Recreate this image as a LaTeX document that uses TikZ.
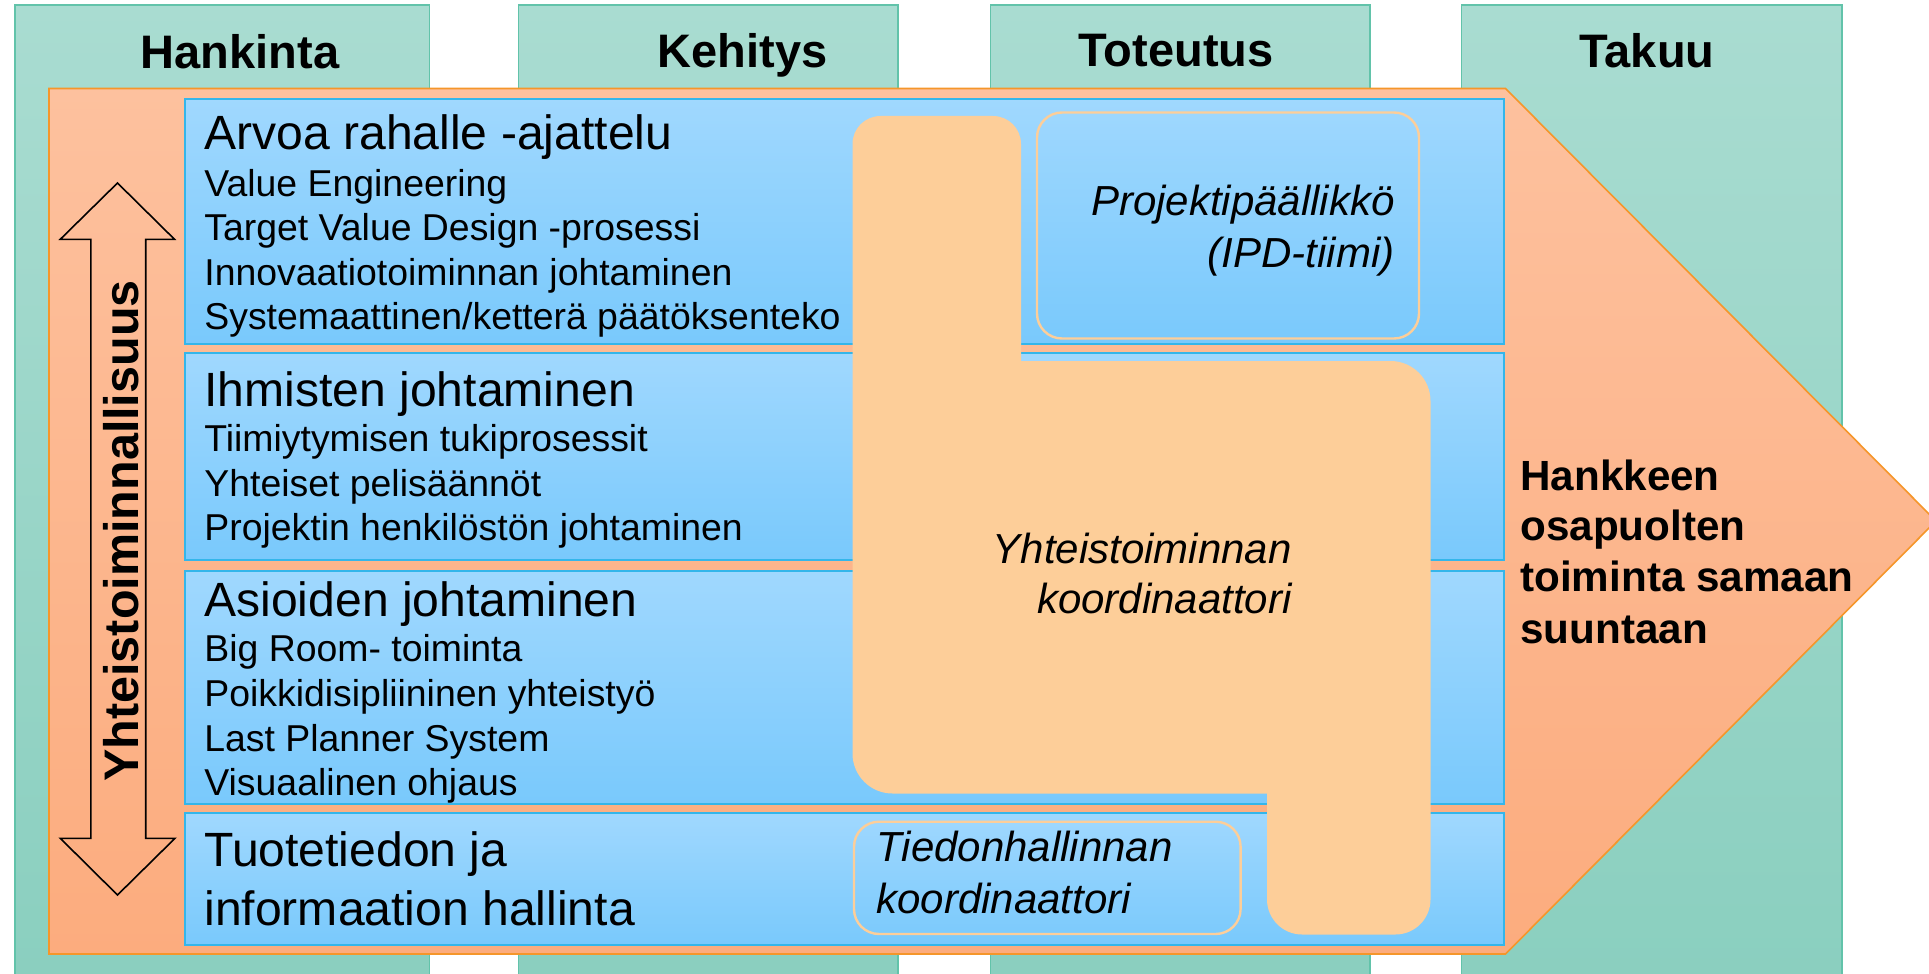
\documentclass[tikz,border=0pt]{standalone}
\usepackage{fontspec}
\setmainfont{Liberation Sans}
\definecolor{greentop}{HTML}{A9DCD1}
\definecolor{greenbot}{HTML}{8ACFBF}
\definecolor{greenline}{HTML}{62C3AA}
\definecolor{orangetop}{HTML}{FDC19E}
\definecolor{orangebot}{HTML}{FCAC7E}
\definecolor{orangeline}{HTML}{F5962A}
\definecolor{bluetop}{HTML}{A0D8FE}
\definecolor{bluebot}{HTML}{79C9FC}
\definecolor{blueline}{HTML}{34B6EA}
\definecolor{peach}{HTML}{FDCE99}
\begin{document}
\begin{tikzpicture}[x=0.5pt,y=0.5pt,yscale=-1,xscale=1,
  phase/.style={draw=greenline,line width=0.6pt,top color=greentop,bottom color=greenbot},
  rowbox/.style={draw=blueline,line width=1pt,top color=bluetop,bottom color=bluebot},
  rolebox/.style={draw=peach,line width=1.2pt,rounded corners=12.5pt},
  phasetxt/.style={font=\bfseries\fontsize{23.5}{28}\selectfont,anchor=base,inner sep=0pt},
  titletxt/.style={font=\fontsize{24.05}{28}\selectfont,anchor=base west,inner sep=0pt},
  itemtxt/.style={font=\fontsize{18.7}{22}\selectfont,anchor=base west,inner sep=0pt},
  roletxt/.style={font=\itshape\fontsize{21}{25}\selectfont,inner sep=0pt},
  goaltxt/.style={font=\bfseries\fontsize{21.1}{25}\selectfont,anchor=base west,inner sep=0pt}]
\useasboundingbox (0,0) rectangle (1929,974);

%Shape: Phase columns
\draw[phase] (15,5) rectangle (429.5,985);
\draw[phase] (518.5,5) rectangle (898,985);
\draw[phase] (990.5,5) rectangle (1370,985);
\draw[phase] (1461.5,5) rectangle (1842,985);

%Shape: Big arrow
\draw[draw=orangeline,line width=0.8pt,top color=orangetop,bottom color=orangebot]
  (49,88.5) -- (1505.5,88.5) -- (1936,521) -- (1505.5,954) -- (49,954) -- cycle;

%Shape: Rows
\draw[rowbox] (185,98.7) rectangle (1503.5,344);
\draw[rowbox] (185,352.5) rectangle (1503.5,559.5);
\draw[rowbox] (185,570.5) rectangle (1503.5,804);
\draw[rowbox] (185,813.3) rectangle (1503.5,945.3);

%Shape: Coordinator area
\fill[peach] (852.5,144) .. controls (852.5,128.5) and (865,116) .. (880.5,116)
  -- (993,116) .. controls (1008.5,116) and (1021,128.5) .. (1021,144)
  -- (1021,361) -- (1390.5,361) .. controls (1412.6,361) and (1430.5,378.9) .. (1430.5,401)
  -- (1430.5,899.5) .. controls (1430.5,918.8) and (1414.8,934.5) .. (1395.5,934.5)
  -- (1302,934.5) .. controls (1282.7,934.5) and (1267,918.8) .. (1267,899.5)
  -- (1267,793.5) -- (892.5,793.5) .. controls (870.4,793.5) and (852.5,775.6) .. (852.5,753.5)
  -- cycle;

%Shape: Role boxes
\draw[rolebox] (1037,112.5) rectangle (1419,338.5);
\draw[rolebox] (854,821.7) rectangle (1240.6,934);

%Shape: Double arrow
\draw[line width=0.8pt] (117.5,183) -- (174.5,239.3) -- (145.7,239.3) -- (145.7,838.3)
  -- (175,838.3) -- (117.5,895) -- (60.3,838.3) -- (90.8,838.3) -- (90.8,239.3)
  -- (60.3,239.3) -- cycle;

% Text Node
\node[phasetxt] (hankinta) at (240,69) {Hankinta};
% Text Node
\node[phasetxt] (kehitys) at (742.5,68) {Kehitys};
% Text Node
\node[phasetxt] (toteutus) at (1176,67) {Toteutus};
% Text Node
\node[phasetxt] (takuu) at (1647,67.5) {Takuu};

% Text Node
\node[titletxt] (arvoa) at (204,149) {Arvoa rahalle -ajattelu};
\node[itemtxt] (arvoa1) at (204,196.5) {Value Engineering};
\node[itemtxt] (arvoa2) at (204,241) {Target Value Design -prosessi};
\node[itemtxt] (arvoa3) at (204,285.5) {Innovaatiotoiminnan johtaminen};
\node[itemtxt] (arvoa4) at (204,329.5) {Systemaattinen/ketterä päätöksenteko};

% Text Node
\node[titletxt] (ihmiset) at (204,406.7) {Ihmisten johtaminen};
\node[itemtxt] (ihmiset1) at (204,451.7) {Tiimiytymisen tukiprosessit};
\node[itemtxt] (ihmiset2) at (204,496.5) {Yhteiset pelisäännöt};
\node[itemtxt] (ihmiset3) at (204,540.5) {Projektin henkilöstön johtaminen};

% Text Node
\node[titletxt] (asiat) at (204,616.7) {Asioiden johtaminen};
\node[itemtxt] (asiat1) at (204,661.7) {Big Room- toiminta};
\node[itemtxt] (asiat2) at (204,706.5) {Poikkidisipliininen yhteistyö};
\node[itemtxt] (asiat3) at (204,751.5) {Last Planner System};
\node[itemtxt] (asiat4) at (204,795.5) {Visuaalinen ohjaus};

% Text Node
\node[titletxt] (tuote1) at (204,866.7) {Tuotetiedon ja};
\node[titletxt] (tuote2) at (204,925) {informaation hallinta};

% Text Node
\node[roletxt,anchor=base east] (pm1) at (1395,215) {Projektipäällikkö};
\node[roletxt,anchor=base east] (pm2) at (1395,267) {(IPD-tiimi)};
% Text Node
\node[roletxt,anchor=base east] (yk1) at (1292,563.3) {Yhteistoiminnan};
\node[roletxt,anchor=base east] (yk2) at (1292,613.3) {koordinaattori};
% Text Node
\node[roletxt,anchor=base west] (tk1) at (876,861.7) {Tiedonhallinnan};
\node[roletxt,anchor=base west] (tk2) at (876,913.3) {koordinaattori};

% Text Node
\node[goaltxt] (goal1) at (1520,490) {Hankkeen};
\node[goaltxt] (goal2) at (1520,540.5) {osapuolten};
\node[goaltxt] (goal3) at (1520,591.7) {toiminta samaan};
\node[goaltxt] (goal4) at (1520,643) {suuntaan};

% Text Node
\node[font=\bfseries\fontsize{24.25}{29}\selectfont,inner sep=0pt,rotate=90] (yhteis) at (121.5,531) {Yhteistoiminnallisuus};

\end{tikzpicture}
\end{document}
